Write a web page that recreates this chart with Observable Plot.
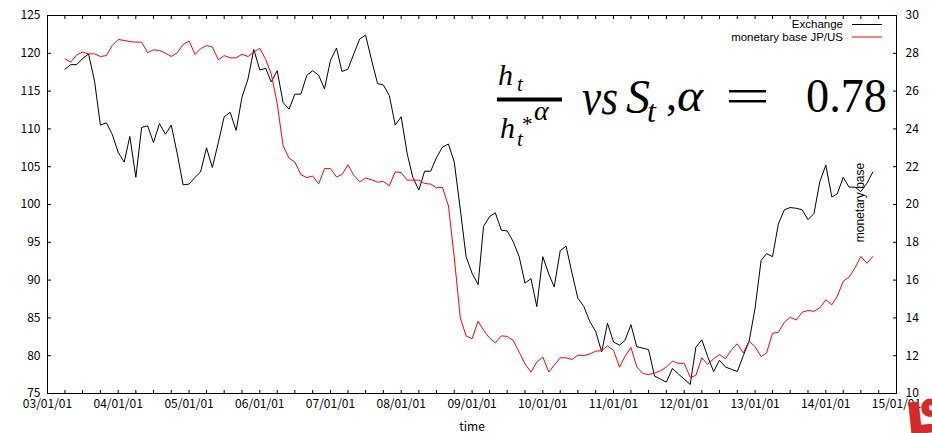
<!DOCTYPE html>
<html><head><meta charset="utf-8">
<script src="https://cdn.jsdelivr.net/npm/d3@7"></script>
<script src="https://cdn.jsdelivr.net/npm/@observablehq/plot@0.6"></script>
<style>
html,body{margin:0;padding:0;background:#fff;}
#wrap{position:relative;width:932px;height:433px;overflow:hidden;background:#fff;}
#wrap svg.overlay{position:absolute;left:0;top:0;pointer-events:none;}
</style></head>
<body><div id="wrap"></div>
<script>
// ---- data (monthly, first point = April 2003) ----
const firstMonth = "2003-04-01";
const exchange = [
117.9,118.5,118.5,119.3,119.9,116.3,110.5,110.8,109.3,106.9,
105.6,109.0,103.6,110.2,110.4,108.2,110.7,109.3,110.5,106.7,
102.6,102.7,103.6,104.3,107.5,104.9,108.2,111.6,112.2,109.8,
114.2,116.6,120.5,117.8,118.0,116.2,117.7,113.5,112.6,114.6,
114.6,117.1,117.7,117.1,115.3,119.1,120.7,117.6,117.9,119.9,
121.9,122.4,119.1,116.0,115.8,114.4,110.5,111.6,106.7,103.6,
101.9,104.4,104.4,106.2,107.6,108.0,105.6,99.4,93.1,90.9,
89.4,97.1,98.4,98.9,96.6,96.5,95.1,93.1,89.6,90.2,
86.5,93.1,90.8,89.1,93.9,94.5,90.9,87.6,86.5,84.5,
83.2,80.5,84.3,81.8,81.4,82.0,84.1,81.2,81.0,80.8,
77.3,76.9,76.5,78.3,77.6,76.9,76.2,81.1,82.1,79.9,
77.9,79.4,78.5,78.2,77.9,80.0,81.9,86.3,92.6,93.5,
93.1,97.4,99.3,99.6,99.5,99.3,98.0,98.8,103.0,105.2,
101.0,101.4,103.6,102.3,102.3,101.7,102.8,104.3];
const monetaryBase = [
27.71,27.53,27.92,28.06,27.97,27.97,27.83,27.88,28.41,28.73,
28.68,28.62,28.59,28.59,28.03,28.18,28.15,28.01,27.83,28.03,
28.47,28.64,27.94,28.24,28.41,28.33,27.66,27.88,27.76,27.76,
27.95,27.83,28.06,28.27,27.66,26.91,25.33,23.12,22.45,22.25,
21.58,21.42,21.51,21.09,21.90,21.90,21.46,21.58,22.10,21.55,
21.20,21.40,21.31,21.18,21.22,20.99,21.73,21.69,21.29,21.29,
21.29,21.11,21.08,20.88,20.91,19.92,17.2,14.0,13.05,12.90,
13.83,13.34,12.94,12.68,13.05,13.02,12.81,12.19,11.57,11.13,
11.66,11.93,11.13,11.50,11.89,11.89,11.80,12.03,12.01,12.09,
12.24,12.27,12.52,12.29,11.39,11.96,12.44,11.41,11.06,11.00,
11.08,11.2,11.4,11.71,11.60,11.60,10.86,10.95,11.89,11.54,
11.84,12.06,11.84,12.31,12.63,12.14,12.77,12.48,11.95,12.14,
13.19,13.24,13.77,14.03,13.89,14.30,14.39,14.35,14.53,14.96,
14.69,15.14,15.94,16.16,16.65,17.25,16.89,17.25];
const leftTicks = [75,80,85,90,95,100,105,110,115,120,125];
const rightTicks = [10,12,14,16,18,20,22,24,26,28,30];
const xDomain = ["2003-01-01","2015-01-01"];
const seriesNames = ["Exchange","monetary base JP/US"];
const seriesColors = ["#000000","#ff0000"];
const xLabel = "time";
const y2Label = "monetary base";

// ---- build ----
const start = new Date(firstMonth);
const d0 = new Date(xDomain[0]), d1 = new Date(xDomain[1]);
const exData = exchange.map((v,i)=>({date:d3.utcMonth.offset(start,i), value:v}));
const mbData = monetaryBase.map((v,i)=>({date:d3.utcMonth.offset(start,i), value:v}));
// right axis (10..30) mapped onto left scale (75..125)
const toLeft = v => 75 + (v - 10) * 2.5;
const fromLeft = v => Math.round((v - 75) / 2.5 + 10);
const yearTicks = d3.utcYear.range(d0, d3.utcDay.offset(d1,1));
const quarterTicks = d3.utcMonth.every(3).range(d0, d3.utcDay.offset(d1,1));
const fmt = d3.utcFormat("%y/%m/%d");
const tickFont = "'Noto Sans CJK JP', sans-serif";

const chart = Plot.plot({
  width: 932, height: 433,
  marginLeft: 47, marginRight: 36, marginTop: 15, marginBottom: 40,
  style: {fontFamily: tickFont, fontSize: "12px", color: "#000", background: "#fff"},
  x: {type: "utc", domain: [d0, d1], label: xLabel},
  y: {domain: [75, 125], label: null},
  marks: [
    Plot.line(exData, {x: "date", y: "value", stroke: seriesColors[0], strokeWidth: 1}),
    Plot.line(mbData, {x: "date", y: d => toLeft(d.value), stroke: seriesColors[1], strokeWidth: 1}),
    Plot.frame({stroke: "#000", strokeWidth: 1}),
    // left axis
    Plot.axisY(leftTicks, {anchor: "left", tickSize: 0, tickPadding: 7, label: null, fontSize: 12}),
    Plot.axisY(leftTicks, {anchor: "left", tickSize: -4, tickFormat: () => "", label: null}),
    // right axis
    Plot.axisY(rightTicks.map(toLeft), {anchor: "right", tickSize: 0, tickPadding: 9, tickFormat: fromLeft, label: null, fontSize: 12}),
    Plot.axisY(rightTicks.map(toLeft), {anchor: "right", tickSize: -4, tickFormat: () => "", label: null}),
    // bottom axis
    Plot.axisX(yearTicks, {anchor: "bottom", tickSize: 0, tickPadding: 6, tickFormat: fmt, label: xLabel, labelAnchor: "center", labelArrow: "none", fontSize: 12}),
    Plot.axisX(quarterTicks, {anchor: "bottom", tickSize: -3, tickFormat: () => "", label: null}),
    Plot.axisX(quarterTicks, {anchor: "top", tickSize: -3, tickFormat: () => "", label: null}),
    // y2 label inside the frame
    Plot.text([y2Label], {frameAnchor: "right", textAnchor: "middle", rotate: -90, dx: -36, dy: -2, fontFamily: "'Liberation Sans', Arial, sans-serif", fontSize: 12, fill: "#000"})
  ]
});
const wrap = document.getElementById("wrap");
wrap.appendChild(chart);

// ---- overlay: legend + formula ----
const ns = "http://www.w3.org/2000/svg";
const ov = document.createElementNS(ns, "svg");
ov.setAttribute("class","overlay");
ov.setAttribute("width", 932); ov.setAttribute("height", 433);
function txt(s, x, y, opts) {
  const t = document.createElementNS(ns, "text");
  t.textContent = s;
  t.setAttribute("x", x); t.setAttribute("y", y);
  for (const k in opts) t.setAttribute(k, opts[k]);
  ov.appendChild(t); return t;
}
function line(x1,y1,x2,y2,stroke,w){
  const l = document.createElementNS(ns,"line");
  l.setAttribute("x1",x1);l.setAttribute("y1",y1);l.setAttribute("x2",x2);l.setAttribute("y2",y2);
  l.setAttribute("stroke",stroke);l.setAttribute("stroke-width",w);
  ov.appendChild(l);
}
const legFont = {"font-family":"'Liberation Sans', Arial, sans-serif","font-size":"11.5px","text-anchor":"end","fill":"#000"};
seriesNames.forEach((n,i)=>{
  txt(n, 843, 28 + i*12.5, legFont);
  line(852, 24.5 + i*12.5, 882, 24.5 + i*12.5, seriesColors[i], 1);
});
const serif = "'Liberation Serif', 'Times New Roman', serif";
const it = {"font-family":serif,"font-style":"italic","fill":"#000"};
// fraction h_t / h_t^{*alpha}
txt("h", 498, 85, {...it, "font-size":"30px"});
txt("t", 517, 91, {...it, "font-size":"21px"});
const bar = document.createElementNS(ns,"rect");
bar.setAttribute("x",497);bar.setAttribute("y",97.5);bar.setAttribute("width",65);bar.setAttribute("height",4);bar.setAttribute("fill","#000");
ov.appendChild(bar);
txt("h", 500, 138, {...it, "font-size":"30px"});
txt("t", 517, 146, {...it, "font-size":"21px"});
txt("*", 522, 131, {"font-family":serif,"font-size":"21px","fill":"#000"});
txt("α", 534, 120, {...it, "font-size":"28px"});
// main line
txt("vs", 582, 114, {...it, "font-size":"50px", textLength: 36, lengthAdjust:"spacingAndGlyphs"});
txt("S", 626, 113, {...it, "font-size":"48px"});
txt("t", 647, 122, {...it, "font-size":"32px"});
txt(",", 666, 110, {"font-family":serif,"font-size":"44px","fill":"#000"});
txt("α", 677, 111, {...it, "font-size":"46px", textLength: 26, lengthAdjust:"spacingAndGlyphs"});
txt("=", 725, 113, {"font-family":serif,"font-size":"50px","fill":"#000", textLength: 45, lengthAdjust:"spacingAndGlyphs"});
txt("0.78", 806, 112, {"font-family":serif,"font-size":"48px","fill":"#000", textLength: 81, lengthAdjust:"spacingAndGlyphs"});
// red logo fragment in the corner
const logoStyle = {"font-family":"'DejaVu Sans', sans-serif","font-weight":"bold","fill":"#d42a2a","stroke":"#d42a2a","stroke-width":3,"transform":"rotate(-6 920 420)"};
txt("L", 908, 432, {...logoStyle, "font-size":"40px"});
txt("o", 923, 416, {...logoStyle, "font-size":"26px"});
wrap.appendChild(ov);
</script>
</body></html>
